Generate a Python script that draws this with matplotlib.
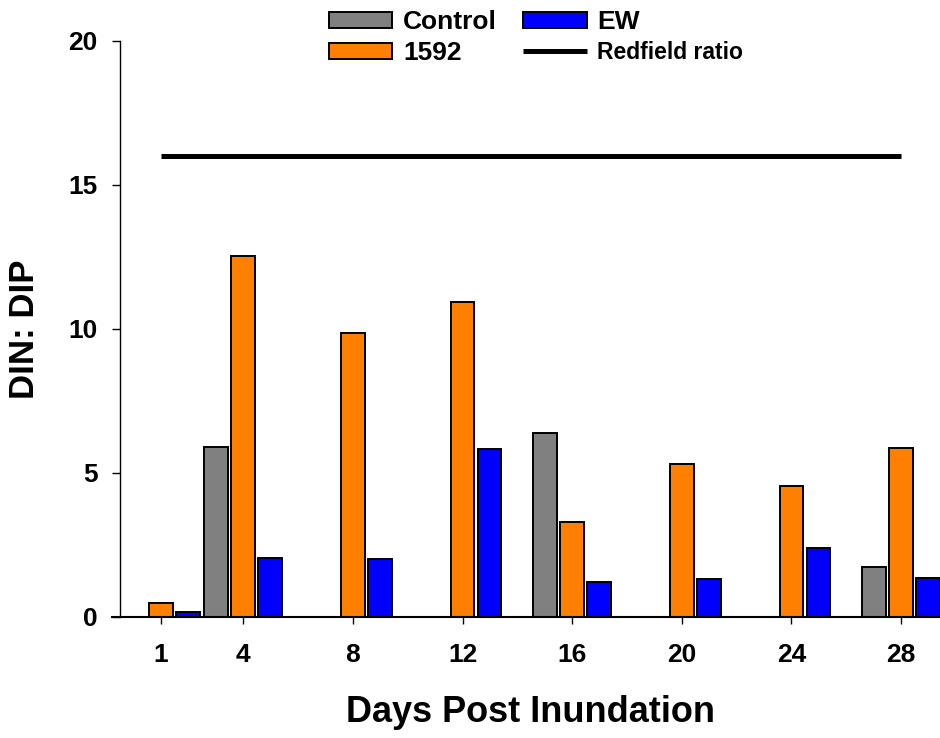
import matplotlib
matplotlib.use("Agg")
import matplotlib.pyplot as plt
import numpy as np

plt.rcParams['font.family'] = ['Liberation Sans', 'DejaVu Sans']
plt.rcParams['font.weight'] = 'bold'

# sampling days and DIN:DIP ratio per treatment (nan = no bar)
days = np.array([1, 4, 8, 12, 16, 20, 24, 28])
control = np.array([np.nan, 5.9, np.nan, np.nan, 6.4, np.nan, np.nan, 1.75])
strain_1592 = np.array([0.5, 12.53, 9.87, 10.93, 3.29, 5.32, 4.56, 5.88])
ew = np.array([0.18, 2.04, 2.0, 5.82, 1.21, 1.32, 2.38, 1.34])
redfield = 16

fig = plt.figure(figsize=(9.4, 7.38), dpi=100)
ax = fig.add_axes([120 / 940, 121 / 738, 820 / 940, 576 / 738])

w = 0.87
off = 0.985
kw = dict(width=w, edgecolor='black', linewidth=1.4)
ax.bar(days - off, control, color='#808080', label='Control', **kw)
ax.bar(days, strain_1592, color='#FF8000', label='1592', **kw)
ax.bar(days + off, ew, color='#0000FF', label='EW', **kw)
ax.plot([days[0], days[-1]], [redfield, redfield], color='black', lw=3.6,
        solid_capstyle='butt', label='Redfield ratio')

ax.set_xlim(-0.496, 29.42)
ax.set_ylim(0, 20)
ax.set_xticks(days)
ax.set_yticks([0, 5, 10, 15, 20])
ax.tick_params(axis='y', length=6, width=1, pad=10, labelsize=19)
ax.tick_params(axis='x', length=5, width=1, pad=14, labelsize=19)
for s in ['top', 'right']:
    ax.spines[s].set_visible(False)
ax.spines['left'].set_linewidth(1)
ax.spines['bottom'].set_linewidth(1.5)
ax.spines['bottom'].set_bounds(-0.8, 29.42)

ax.set_xlabel('Days Post Inundation', fontsize=26, fontweight='bold', va='center')
ax.xaxis.set_label_coords((531 - 120) / 820, (617 - 712) / 576)
ax.set_ylabel('DIN: DIP', fontsize=25, fontweight='bold', va='center')
ax.yaxis.set_label_coords((25 - 120) / 820, (617 - 329) / 576)

handles, labels = ax.get_legend_handles_labels()
order = [1, 2, 3, 0]  # Control, 1592, EW, Redfield ratio
leg = fig.legend([handles[i] for i in order], [labels[i] for i in order],
                 ncol=2, loc='upper left', bbox_to_anchor=(319 / 940, 1.0),
                 frameon=False, fontsize=19, handlelength=2.4,
                 handleheight=0.57, handletextpad=0.4, columnspacing=1.0,
                 labelspacing=0.28, borderaxespad=0.0, borderpad=0.38)
leg.get_texts()[3].set_fontsize(16.5)

fig.savefig('out.png', dpi=100)
